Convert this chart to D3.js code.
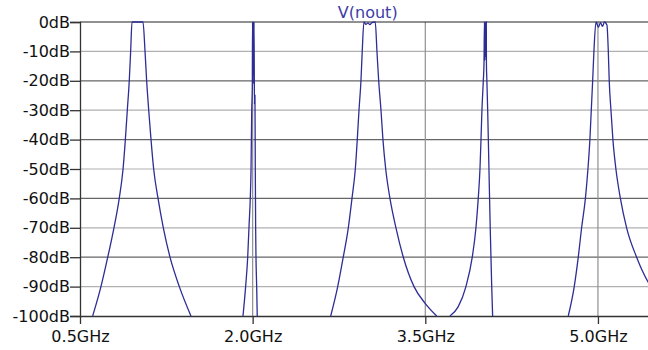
<!DOCTYPE html>
<html lang="en">
<head>
    <meta charset="utf-8">
    <script type="text/javascript" src="https://cdn.jsdelivr.net/npm/d3@7"></script>
    <style>
        body { margin: 0; background: #fff; }
        text { font-family: "DejaVu Sans", Verdana, sans-serif; }
    </style>
</head>
<body>
<script type="text/javascript">

    // trace V(nout): frequency in GHz, magnitude in dB (null = below -100dB, off chart)
    let freqGHz = [
        0.610, 0.682, 0.741, 0.795, 0.841, 0.874, 0.894, 0.911, 0.928, 0.940, 0.952,
        1.047, 1.065, 1.079, 1.097, 1.117, 1.140, 1.178, 1.224, 1.282, 1.363, 1.464,
        null,
        1.916, 1.939, 1.957, 1.968, 1.986, 1.992, 1.997, 1.999, 2.003, 2.006, 2.009,
        2.012, 2.016, 2.020, 2.023, 2.026, 2.029, 2.035, 2.040,
        null,
        2.678, 2.739, 2.787, 2.831, 2.863, 2.892, 2.909, 2.924, 2.941, 2.952, 2.967,
        2.984, 3.002, 3.019, 3.036, 3.065, 3.080, 3.095, 3.115, 3.132, 3.156, 3.193,
        3.245, 3.309, 3.402, 3.497, 3.599,
        null,
        3.714, 3.784, 3.853, 3.908, 3.940, 3.960, 3.975, 3.984, 3.992, 4.004, 4.010,
        4.014, 4.018, 4.023, 4.027, 4.030, 4.031, 4.035, 4.042, 4.053, 4.064, 4.077, 4.085,
        null,
        4.742, 4.794, 4.829, 4.858, 4.891, 4.913, 4.930, 4.942, 4.954, 4.965, 4.983,
        5.004, 5.022, 5.039, 5.057, 5.078, 5.090, 5.098, 5.113, 5.130, 5.156, 5.195,
        5.249, 5.336, 5.434, 5.500
    ];
    let magDb = [
        -100, -90, -80, -70, -60, -50, -40, -30, -20, -10, 0,
        0, -10, -20, -30, -40, -50, -60, -70, -80, -90, -100,
        null,
        -100, -90, -80, -70, -50, -30, -22, 0, -18, 0, -21,
        0, -28, -25, -50, -70, -80, -90, -100,
        null,
        -100, -90, -80, -70, -60, -50, -40, -30, -20, -10, 0,
        -0.8, -0.3, -0.9, -0.2, 0, -10, -20, -30, -40, -50, -60,
        -70, -80, -90, -95.6, -100,
        null,
        -100, -97, -90, -80, -70, -60, -50, -40, -30, -20, -14,
        0, -13, 0, -12, 0, -14, -20, -30, -50, -70, -90, -100,
        null,
        -100, -90, -80, -70, -60, -50, -40, -30, -20, -10, 0,
        -1.8, -0.2, -1.5, 0, -1, -10, -20, -30, -40, -50, -60,
        -70, -80, -88.3, -92
    ];

    let yTicks = [0, -10, -20, -30, -40, -50, -60, -70, -80, -90, -100];
    let xTicks = [0.5, 2.0, 3.5, 5.0];
    let traceName = "V(nout)";

    //Width and height
    let w = 648;
    let h = 350;
    let pLeft = 80, pTop = 22, pBottom = 316, pRight = 655.5;

    let x = d3.scaleLinear().domain([0.5, 5.5]).range([pLeft, pRight]);
    let y = d3.scaleLinear().domain([-100, 0]).range([pBottom, pTop]);

    let svg = d3.select("body")
        .append("svg")
        .attr("width", w)
        .attr("height", h);

    svg.append("defs").append("clipPath")
        .attr("id", "plot")
        .append("rect")
        .attr("x", pLeft)
        .attr("y", pTop - 1)
        .attr("width", pRight - pLeft)
        .attr("height", pBottom - pTop + 2);

    // horizontal grid, alternating dark / light
    svg.append("g")
        .selectAll("line")
        .data(yTicks.filter(d => d > -100 && d < 0))
        .enter()
        .append("line")
        .attr("x1", pLeft)
        .attr("x2", w)
        .attr("y1", d => y(d))
        .attr("y2", d => y(d))
        .attr("stroke", d => (d % 20 === 0) ? "#666" : "#b0b0b0")
        .attr("stroke-width", 1.2);

    // vertical grid
    svg.append("g")
        .selectAll("line")
        .data(xTicks.slice(1))
        .enter()
        .append("line")
        .attr("x1", d => x(d))
        .attr("x2", d => x(d))
        .attr("y1", pTop)
        .attr("y2", pBottom)
        .attr("stroke", "#909090")
        .attr("stroke-width", 1.2);

    // top border (0dB)
    svg.append("line")
        .attr("x1", pLeft).attr("x2", w)
        .attr("y1", pTop).attr("y2", pTop)
        .attr("stroke", "#222")
        .attr("stroke-width", 1.2);

    // axes
    let yAxis = svg.append("g")
        .attr("transform", `translate(${pLeft},0)`)
        .call(d3.axisLeft(y).tickValues(yTicks).tickSize(10).tickPadding(0).tickFormat(d => d + "dB"));

    let xAxis = svg.append("g")
        .attr("transform", `translate(0,${pBottom})`)
        .call(d3.axisBottom(x).tickValues(xTicks).tickSize(8).tickPadding(7).tickFormat(d => d3.format(".1f")(d) + "GHz"));

    [yAxis, xAxis].forEach(g => {
        g.select(".domain").attr("stroke", "#333").attr("stroke-width", 1.3);
        g.selectAll(".tick line").attr("stroke", "#333").attr("stroke-width", 1.3);
        g.selectAll("text")
            .attr("fill", "#111")
            .style("font-size", "16px")
            .style("font-family", "'DejaVu Sans', Verdana, sans-serif");
    });
    xAxis.select(".domain").attr("d", `M${pLeft},0.5H${w}`);

    // trace
    let points = freqGHz.map((f, i) => ({f: f, db: magDb[i]}));
    let line = d3.line()
        .defined(d => d.f !== null && d.db !== null)
        .x(d => x(d.f))
        .y(d => y(d.db))
        .curve(d3.curveMonotoneX);

    svg.append("path")
        .datum(points)
        .attr("clip-path", "url(#plot)")
        .attr("d", line)
        .attr("fill", "none")
        .attr("stroke", "#2d2d96")
        .attr("stroke-width", 1.3);

    // title
    svg.append("text")
        .attr("x", (pLeft + pRight) / 2)
        .attr("y", 18)
        .attr("text-anchor", "middle")
        .attr("fill", "#3c3ca8")
        .style("font-size", "16px")
        .text(traceName);

</script>
</body>
</html>
